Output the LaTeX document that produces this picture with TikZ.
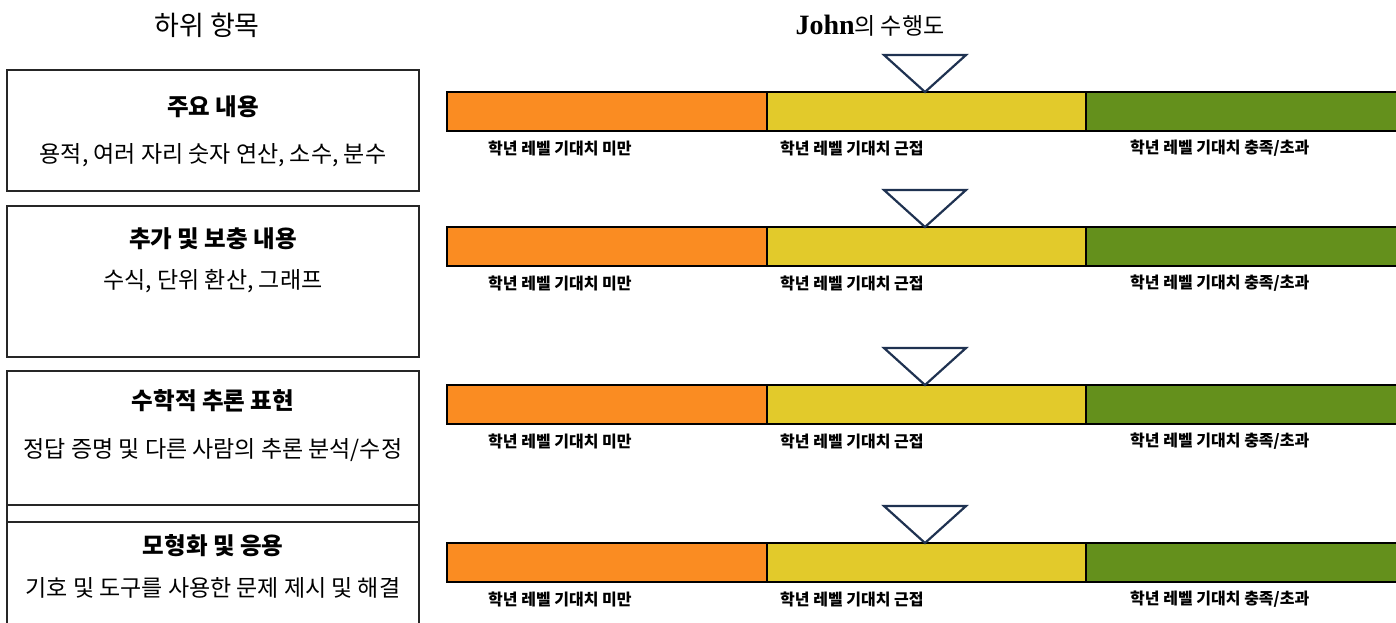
\documentclass[tikz,border=0pt]{standalone}
\usepackage{fontspec}
\setmainfont{Liberation Serif}
\newfontfamily\kr{Noto Sans CJK KR}
\usetikzlibrary{positioning}

\definecolor{lowor}{HTML}{FA8C22}
\definecolor{nearye}{HTML}{E2CA2B}
\definecolor{meetgr}{HTML}{64901C}
\definecolor{marknavy}{HTML}{1F3251}

\begin{document}
\begin{tikzpicture}[x=1pt,y=-1pt,
        subbox/.style={draw=black!85,line width=1.5pt},
        boxtitle/.style={font=\kr\bfseries\fontsize{23.5}{27}\selectfont},
        boxtext/.style={font=\kr\fontsize{23}{27}\selectfont},
        levellabel/.style={font=\kr\bfseries\fontsize{16}{18}\selectfont,anchor=west,inner sep=0pt},
        marker/.style={draw=marknavy,fill=white,line width=2.2pt,line join=miter}]
        \useasboundingbox (0,0) rectangle (1396,622);
        % headings
        \node[font=\kr\fontsize{27}{31}\selectfont] (subhead) at (207,25) {하위 항목};
        \node[font=\fontsize{28}{32}\selectfont] (perfhead) at (870,26)
            {\textbf{John}{\kr\fontsize{23}{27}\selectfont 의 수행도}};
        % left boxes
        \draw[subbox] (7,70) rectangle (419,191);
        \draw[subbox] (7,206) rectangle (419,357);
        \draw[subbox] (7,371) rectangle (419,522);
        \draw[subbox] (7,505) rectangle (419,640);
        \node[boxtitle] (maintitle) at (213,107) {주요 내용};
        \node[boxtext] (maintext) at (213,155) {용적, 여러 자리 숫자 연산, 소수, 분수};
        \node[boxtitle] (addtitle) at (213,239) {추가 및 보충 내용};
        \node[boxtext] (addtext) at (213,281) {수식, 단위 환산, 그래프};
        \node[boxtitle] (reastitle) at (213,401) {수학적 추론 표현};
        \node[boxtext] (reastext) at (213,450) {정답 증명 및 다른 사람의 추론 분석/수정};
        \node[boxtitle] (modtitle) at (213,546) {모형화 및 응용};
        \node[boxtext] (modtext) at (213,588) {기호 및 도구를 사용한 문제 제시 및 해결};
        % level bars with markers
        \foreach \y [count=\i] in {92,227,385,543} {
            \filldraw[fill=lowor,draw=black,line width=2.5pt] (447,\y) rectangle (767,\y+39);
            \filldraw[fill=nearye,draw=black,line width=2.5pt] (767,\y) rectangle (1086,\y+39);
            \filldraw[fill=meetgr,draw=black,line width=2.5pt] (1086,\y) rectangle (1400,\y+39);
            \filldraw[marker] (884,\y-37) -- (966,\y-37) -- (925,\y) -- cycle;
            \node[levellabel] (below\i) at (488,\y+56) {학년 레벨 기대치 미만};
            \node[levellabel] (near\i) at (780,\y+56) {학년 레벨 기대치 근접};
            \node[levellabel] (meet\i) at (1130,\y+56) {학년 레벨 기대치 충족/초과};
        }
    \end{tikzpicture}
\end{document}
